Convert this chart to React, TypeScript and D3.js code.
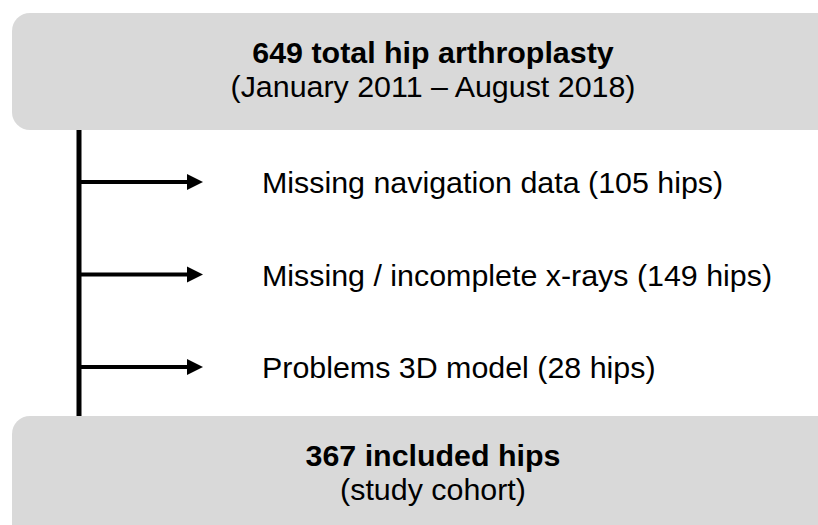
import React from "react";
import * as d3 from "d3";

const topTitle = "649 total hip arthroplasty";
const topSubtitle = "(January 2011 – August 2018)";
const exclusionLabels = ["Missing navigation data", "Missing / incomplete x-rays", "Problems 3D model"];
const exclusionCounts = [105, 149, 28];
const bottomTitle = "367 included hips";
const bottomSubtitle = "(study cohort)";

const W = 818;
const H = 525;
const FONT = "'Liberation Sans', Arial, Helvetica, sans-serif";
const FS = 30.4;

export default function App() {
  const y = d3.scalePoint<string>().domain(exclusionLabels).range([182, 367]);
  const boxX = 12;
  const boxW = 842;
  const cx = boxX + boxW / 2;
  const lineX = 79;
  const arrowStart = lineX;
  const arrowTip = 203;
  const headLen = 16;
  const headHalf = 8;

  return (
    <svg
      width={W}
      height={H}
      viewBox={`0 0 ${W} ${H}`}
      style={{ position: "absolute", left: 0, top: 0, display: "block", background: "#fff" }}
    >
      <rect x={boxX} y={13} width={boxW} height={117} rx={18} ry={18} fill="#d9d9d9" />
      <rect x={boxX} y={416} width={boxW} height={140} rx={18} ry={18} fill="#d9d9d9" />

      <line x1={lineX} x2={lineX} y1={130} y2={416} stroke="#000" strokeWidth={5} />

      <text x={cx} y={63} textAnchor="middle" fontFamily={FONT} fontSize={FS} fontWeight="bold" fill="#000">
        {topTitle}
      </text>
      <text x={cx} y={97} textAnchor="middle" fontFamily={FONT} fontSize={FS} fill="#000">
        {topSubtitle}
      </text>

      {exclusionLabels.map((lab, i) => {
        const yy = y(lab)!;
        return (
          <g key={lab}>
            <line x1={arrowStart} x2={arrowTip - headLen + 2} y1={yy} y2={yy} stroke="#000" strokeWidth={4} />
            <path
              d={`M${arrowTip - headLen},${yy - headHalf} L${arrowTip},${yy} L${arrowTip - headLen},${yy + headHalf} Z`}
              fill="#000"
            />
            <text x={262} y={yy + 11} fontFamily={FONT} fontSize={FS} fill="#000">
              {`${lab} (${exclusionCounts[i]} hips)`}
            </text>
          </g>
        );
      })}

      <text x={cx} y={466} textAnchor="middle" fontFamily={FONT} fontSize={FS} fontWeight="bold" fill="#000">
        {bottomTitle}
      </text>
      <text x={cx} y={500} textAnchor="middle" fontFamily={FONT} fontSize={FS} fill="#000">
        {bottomSubtitle}
      </text>
    </svg>
  );
}
